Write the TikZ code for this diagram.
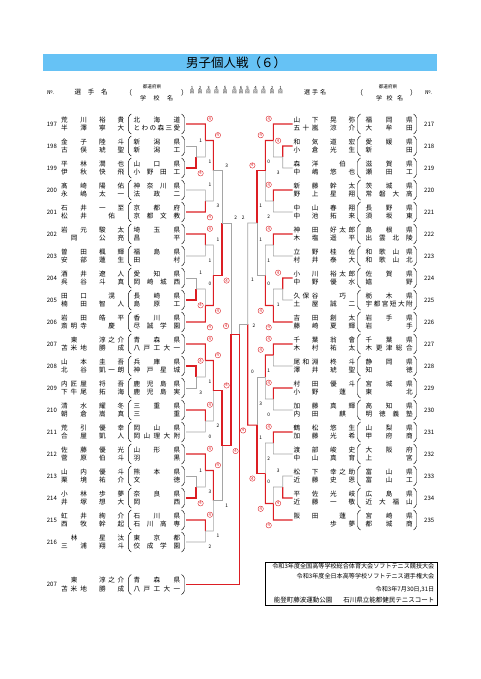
\documentclass[tikz,border=0pt]{standalone}
\usepackage{fontspec}
\setmainfont{Noto Sans CJK JP}
\usetikzlibrary{calc}
\definecolor{wred}{RGB}{220,30,36}
\definecolor{lgray}{RGB}{165,165,165}
\definecolor{tbar}{RGB}{102,194,245}
\newcommand\fs[1]{\fontsize{#1}{#1}\selectfont}
\tikzset{
 nm/.style={anchor=west,inner sep=0pt,font=\fs{6.6}},
 num/.style={anchor=west,inner sep=0pt,font=\fs{6}},
 paren/.style={line width=0.45pt,rounded corners=1.5pt},
 lose/.style={draw=lgray,line width=0.6pt},
 win/.style={draw=wred,line width=1.1pt},
 wsc/.style={circle,draw=wred,text=wred,line width=0.4pt,inner sep=0pt,minimum size=5.4pt,font=\fs{4.3}},
 lsc/.style={inner sep=0pt,font=\fs{4.8}},
 rlab/.style={inner sep=0pt,font=\fs{4.3},align=center},
 hd/.style={anchor=west,inner sep=0pt,font=\fs{6.5}},
 info/.style={anchor=east,inner sep=0pt,font=\fs{6.1}},
}
\newcommand\Lent[9]{%
 \coordinate (#1) at (186,#3);
 \node[num] (#1n) at (46.7,#3) {#2};
 \node[nm] (#1a) at (61,#3-4.3) {\makebox[25.7pt][s]{#4}};
 \node[nm] (#1b) at (99,#3-4.3) {\makebox[25pt][s]{#5}};
 \node[nm] (#1c) at (61,#3+4.3) {\makebox[25.7pt][s]{#6}};
 \node[nm] (#1d) at (99,#3+4.3) {\makebox[25pt][s]{#7}};
 \draw[paren] (131.3,#3-10) -- (128.3,#3-7.5) -- (128.3,#3+7.5) -- (131.3,#3+10);
 \node[nm] (#1e) at (133.3,#3-4.3) {\makebox[46.7pt][s]{#8}};
 \node[nm] (#1f) at (133.3,#3+4.3) {\makebox[46.7pt][s]{#9}};
 \draw[paren] (181.5,#3-10) -- (184.5,#3-7.5) -- (184.5,#3+7.5) -- (181.5,#3+10);
}
\newcommand\Rent[9]{%
 \coordinate (#1) at (292.7,#3);
 \node[nm] (#1a) at (293.3,#3-4.3) {\makebox[25pt][s]{#4}};
 \node[nm] (#1b) at (330,#3-4.3) {\makebox[25pt][s]{#5}};
 \node[nm] (#1c) at (293.3,#3+4.3) {\makebox[25pt][s]{#6}};
 \node[nm] (#1d) at (330,#3+4.3) {\makebox[25pt][s]{#7}};
 \draw[paren] (360.5,#3-10) -- (357.5,#3-7.5) -- (357.5,#3+7.5) -- (360.5,#3+10);
 \node[nm] (#1e) at (365.5,#3-4.3) {\makebox[47pt][s]{#8}};
 \node[nm] (#1f) at (365.5,#3+4.3) {\makebox[47pt][s]{#9}};
 \draw[paren] (413.5,#3-10) -- (416.5,#3-7.5) -- (416.5,#3+7.5) -- (413.5,#3+10);
 \node[num] (#1n) at (424,#3) {#2};
}
% match, top input wins: sign, name, top, bottom, column, loser score
\newcommand\MT[6]{%
 \coordinate (#2t) at (#3 -| #5);
 \coordinate (#2b) at (#4 -| #5);
 \coordinate (#2) at ($(#2t)!0.5!(#2b)$);
 \draw[lose] (#4) -- (#2b) -- (#2);
 \draw[win] (#3) -- (#2t) -- (#2);
 \node[wsc] (#2ws) at ($(#2t)+(#1*4.6,-5.3)$) {4};
 \node[lsc] (#2ls) at ($(#2b)+(#1*4.6,4.8)$) {#6};
}
% match, bottom input wins
\newcommand\MB[6]{%
 \coordinate (#2t) at (#3 -| #5);
 \coordinate (#2b) at (#4 -| #5);
 \coordinate (#2) at ($(#2t)!0.5!(#2b)$);
 \draw[lose] (#3) -- (#2t) -- (#2);
 \draw[win] (#4) -- (#2b) -- (#2);
 \node[wsc] (#2ws) at ($(#2b)+(#1*4.6,5.3)$) {4};
 \node[lsc] (#2ls) at ($(#2t)+(#1*4.6,-4.8)$) {#6};
}
\begin{document}
\begin{tikzpicture}[x=1pt,y=-1pt]
\useasboundingbox (0,0) rectangle (480,679);
% title
\node[fill=tbar,minimum width=394pt,minimum height=16.5pt,inner sep=0pt,anchor=north west] (bar) at (43,54) {};
\node[inner sep=0pt,font=\fs{12.5}] (title) at (236,62.3) {男子個人戦（６）};
% header left
\node[hd,font=\fs{5.5}] (hno) at (47,92.5) {№.};
\node[hd] (hnm) at (74.5,92.5) {\makebox[33pt][s]{選 手 名}};
\node[hd,font=\fs{7}] (hpo) at (125,92.5) {（};
\node[inner sep=0pt,font=\fs{4.6}] (hpr) at (152,87) {都道府県};
\node[hd,font=\fs{6}] (hsc) at (140,98) {\makebox[33pt][s]{学 校 名}};
\node[hd,font=\fs{7}] (hpc) at (181,92.5) {）};
\foreach \n/\x in {1/192,2/200,3/208.5,4/216.5,5/225,6/234.5}
  \node[rlab] (hl\n) at (\x,90.3) {\n\\[-0.6pt]回};
\foreach \n/\x in {6/241,5/247.5,4/255.5,3/263.5,2/272,1/280.5}
  \node[rlab] (hr\n) at (\x,90.3) {\n\\[-0.6pt]回};
% header right
\node[hd,font=\fs{6}] (rnm) at (304,92.5) {\makebox[22pt][s]{選 手 名}};
\node[hd,font=\fs{7}] (rpo) at (356,92.5) {（};
\node[inner sep=0pt,font=\fs{4.6}] (rpr) at (388,87) {都道府県};
\node[hd,font=\fs{6}] (rsc) at (376,98) {\makebox[27pt][s]{学 校 名}};
\node[hd,font=\fs{7}] (rpc) at (410,92.5) {）};
\node[hd,font=\fs{5.5}] (rno) at (425,92.5) {№.};
% columns
\coordinate (L1) at (196,0); \coordinate (L2) at (205.3,0); \coordinate (L3) at (213.3,0);
\coordinate (L4) at (222,0); \coordinate (L5) at (231,0);
\coordinate (R1) at (282.7,0); \coordinate (R2) at (273.3,0); \coordinate (R3) at (265.3,0);
\coordinate (R4) at (257,0); \coordinate (R5) at (247.7,0);
\coordinate (C) at (239.3,0);
% left entries
\Lent{e197}{197}{124}{荒 川}{裕 貴}{半 澤}{寧 大}{北 海 道}{と わ の 森 三 愛}
\Lent{e198}{198}{146}{金 子}{陸 斗}{古 俣}{琥 聖}{新 潟 県}{新 潟 工}
\Lent{e199}{199}{168}{平 林}{潤 也}{伊 秋}{快 飛}{山 口 県}{小 野 田 工}
\Lent{e200}{200}{190}{髙 崎}{陽 佑}{永 嶋}{太 一}{神 奈 川 県}{法 政 二}
\Lent{e201}{201}{212}{石 井}{一 至}{松 井}{\hfil 佑\hfil}{京 都 府}{京 都 文 教}
\Lent{e202}{202}{234}{岩 元}{駿 太}{\hfil 岡\hfil}{公 亮}{埼 玉 県}{昌 平}
\Lent{e203}{203}{256}{曽 田}{楓 輝}{安 部}{蓮 生}{福 島 県}{田 村}
\Lent{e204}{204}{278}{酒 井}{遼 人}{呉 谷}{斗 真}{愛 知 県}{岡 崎 城 西}
\Lent{e205}{205}{300}{田 口}{\hfil 滉\hfil}{楠 田}{智 人}{長 崎 県}{島 原 工}
\Lent{e206}{206}{322}{岩 田}{皓 平}{斎 明 寺}{\hfil 慶\hfil}{香 川 県}{尽 誠 学 園}
\Lent{e207}{207}{344}{\hfil 東\hfil}{淳 之 介}{苫 米 地}{勝 成}{青 森 県}{八 戸 工 大 一}
\Lent{e208}{208}{366}{山 本}{圭 吾}{北 谷}{凱 一 朗}{兵 庫 県}{神 戸 星 城}
\Lent{e209}{209}{388}{内 匠 屋}{将 吾}{下 牛 尾}{拓 海}{鹿 児 島 県}{鹿 児 島 実}
\Lent{e210}{210}{410}{清 水}{耀 冬}{朝 倉}{嵩 真}{三 重 県}{三 重}
\Lent{e211}{211}{432}{荒 引}{優 幸}{合 屋}{凱 人}{岡 山 県}{岡 山 理 大 附}
\Lent{e212}{212}{454}{佐 藤}{優 光}{菅 原}{伯 斗}{山 形 県}{羽 黒}
\Lent{e213}{213}{476}{山 内}{優 斗}{栗 境}{祐 介}{熊 本 県}{文 徳}
\Lent{e214}{214}{498}{小 林}{歩 夢}{井 塚}{想 大}{奈 良 県}{岡 西}
\Lent{e215}{215}{520}{虹 井}{絢 介}{西 牧}{幹 起}{石 川 県}{石 川 高 専}
\Lent{e216}{216}{542}{\hfil 林\hfil}{星 汰}{三 浦}{翔 斗}{東 京 都}{佼 成 学 園}
% right entries
\Rent{e217}{217}{124}{山 下}{晃 弥}{五 十 嵐}{涼 介}{福 岡 県}{大 牟 田}
\Rent{e218}{218}{146}{和 気}{道 宏}{小 倉}{光 生}{愛 媛 県}{新 田}
\Rent{e219}{219}{168}{森 洋}{\hfil 伯\hfil}{中 嶋}{悠 也}{滋 賀 県}{瀬 田 工}
\Rent{e220}{220}{190}{新 藤}{幹 太}{野 上}{星 翔}{茨 城 県}{常 磐 大 高}
\Rent{e221}{221}{212}{中 山}{春 翔}{中 池}{拓 来}{長 野 県}{須 坂 東}
\Rent{e222}{222}{234}{神 田}{好 太 郎}{木 塩}{遥 平}{島 根 県}{出 雲 北 陵}
\Rent{e223}{223}{256}{立 野}{桂 佐}{村 井}{泰 大}{和 歌 山 県}{和 歌 山 北}
\Rent{e224}{224}{278}{小 川}{裕 太 郎}{中 野}{優 水}{佐 賀 県}{嬉 野}
\Rent{e225}{225}{300}{久 保 谷}{\hfil 巧\hfil}{土 屋}{誠 二}{栃 木 県}{宇 都 宮 短 大 附}
\Rent{e226}{226}{322}{吉 田}{創 太}{藤 崎}{夏 輝}{岩 手 県}{岩 手}
\Rent{e227}{227}{344}{千 葉}{翁 會}{木 村}{祐 太}{千 葉 県}{木 更 津 総 合}
\Rent{e228}{228}{366}{尾 和 淵}{柊 斗}{澤 井}{琥 聖}{静 岡 県}{知 徳}
\Rent{e229}{229}{388}{村 田}{優 斗}{小 野}{\hfil 蓮\hfil}{宮 城 県}{東 北}
\Rent{e230}{230}{410}{加 藤}{真 輝}{内 田}{\hfil 麒\hfil}{高 知 県}{明 徳 義 塾}
\Rent{e231}{231}{432}{鶴 松}{悠 生}{加 藤}{光 希}{山 梨 県}{甲 府 商}
\Rent{e232}{232}{454}{渡 部}{峻 史}{中 山}{真 育}{大 阪 府}{上 宮}
\Rent{e233}{233}{476}{松 下}{幸 之 助}{近 藤}{史 恩}{富 山 県}{富 山 工}
\Rent{e234}{234}{498}{平 佐}{光 岐}{近 藤}{一 敬}{広 島 県}{近 大 福 山}
\Rent{e235}{235}{520}{阪 田}{\hfil 蓮\hfil}{}{歩 夢}{宮 崎 県}{都 城 商}
% bottom: block winner
\Lent{w207}{207}{584.5}{\hfil 東\hfil}{淳 之 介}{苫 米 地}{勝 成}{青 森 県}{八 戸 工 大 一}
% left bracket
\MB{1}{a1}{e198}{e199}{L1}{1}
\MT{1}{a2}{e197}{a1}{L2}{1}
\MB{1}{a3}{e200}{e201}{L2}{1}
\MT{1}{a4}{a2}{a3}{L3}{3}
\MT{1}{b1}{e202}{e203}{L2}{1}
\MB{1}{b2}{e204}{e205}{L1}{1}
\MB{1}{b3}{b2}{e206}{L2}{0}
\MB{1}{b4}{b1}{b3}{L3}{1}
\MB{1}{ab}{a4}{b4}{L4}{3}
\MT{1}{c1}{e208}{e209}{L1}{3}
\MT{1}{c2}{e207}{c1}{L2}{1}
\MT{1}{c3}{e210}{e211}{L2}{0}
\MT{1}{c4}{c2}{c3}{L3}{2}
\MB{1}{d1}{e213}{e214}{L1}{1}
\MT{1}{d2}{e212}{d1}{L2}{3}
\MT{1}{d3}{e215}{e216}{L2}{2}
\MT{1}{d4}{d2}{d3}{L3}{1}
\MT{1}{cd}{c4}{d4}{L4}{1}
\MB{1}{L}{ab}{cd}{L5}{2}
% right bracket
\MT{-1}{p1}{e218}{e219}{R1}{3}
\MT{-1}{p2}{e217}{p1}{R2}{0}
\MT{-1}{p3}{e220}{e221}{R2}{2}
\MT{-1}{p4}{p2}{p3}{R3}{1}
\MT{-1}{q1}{e222}{e223}{R2}{1}
\MT{-1}{q2}{e224}{e225}{R1}{1}
\MB{-1}{q3}{q2}{e226}{R2}{0}
\MB{-1}{q4}{q1}{q3}{R3}{1}
\MT{-1}{pq}{p4}{q4}{R4}{1}
\MT{-1}{s1}{e227}{e228}{R2}{1}
\MT{-1}{s2}{e229}{e230}{R2}{0}
\MT{-1}{s3}{s1}{s2}{R3}{3}
\MT{-1}{t1}{e231}{e232}{R2}{2}
\MB{-1}{t2}{e233}{e234}{R1}{3}
\MB{-1}{t3}{t2}{e235}{R2}{0}
\MB{-1}{t4}{t1}{t3}{R3}{1}
\MB{-1}{st}{s3}{t4}{R4}{0}
\MB{-1}{R}{pq}{st}{R5}{2}
% final
\coordinate (fL) at (L -| C);
\coordinate (fR) at (R -| C);
\coordinate (fB) at (w207 -| C);
\draw[lose] (R) -- (fR) -- (fL);
\draw[win] (L) -- (fL) -- (fB) -- (w207);
\node[wsc] (fws) at (226,326) {4};
\node[lsc] (fls) at (254,326) {2};
% info box
\node[draw,line width=0.5pt,minimum width=172pt,minimum height=43.5pt,inner sep=0pt,anchor=north west] (ibox) at (265,561.5) {};
\node[info] (i1) at (434.5,566.5) {令和3年度全国高等学校総合体育大会ソフトテニス競技大会};
\node[info] (i2) at (434.5,576.5) {令和3年度全日本高等学校ソフトテニス選手権大会};
\node[info] (i3) at (434.5,589) {令和3年7月30日,31日};
\node[info,font=\fs{6.5}] (i4) at (434.5,600.5) {能登町藤波運動公園\hspace{11pt}石川県立能都健民テニスコート};
\end{tikzpicture}
\end{document}
